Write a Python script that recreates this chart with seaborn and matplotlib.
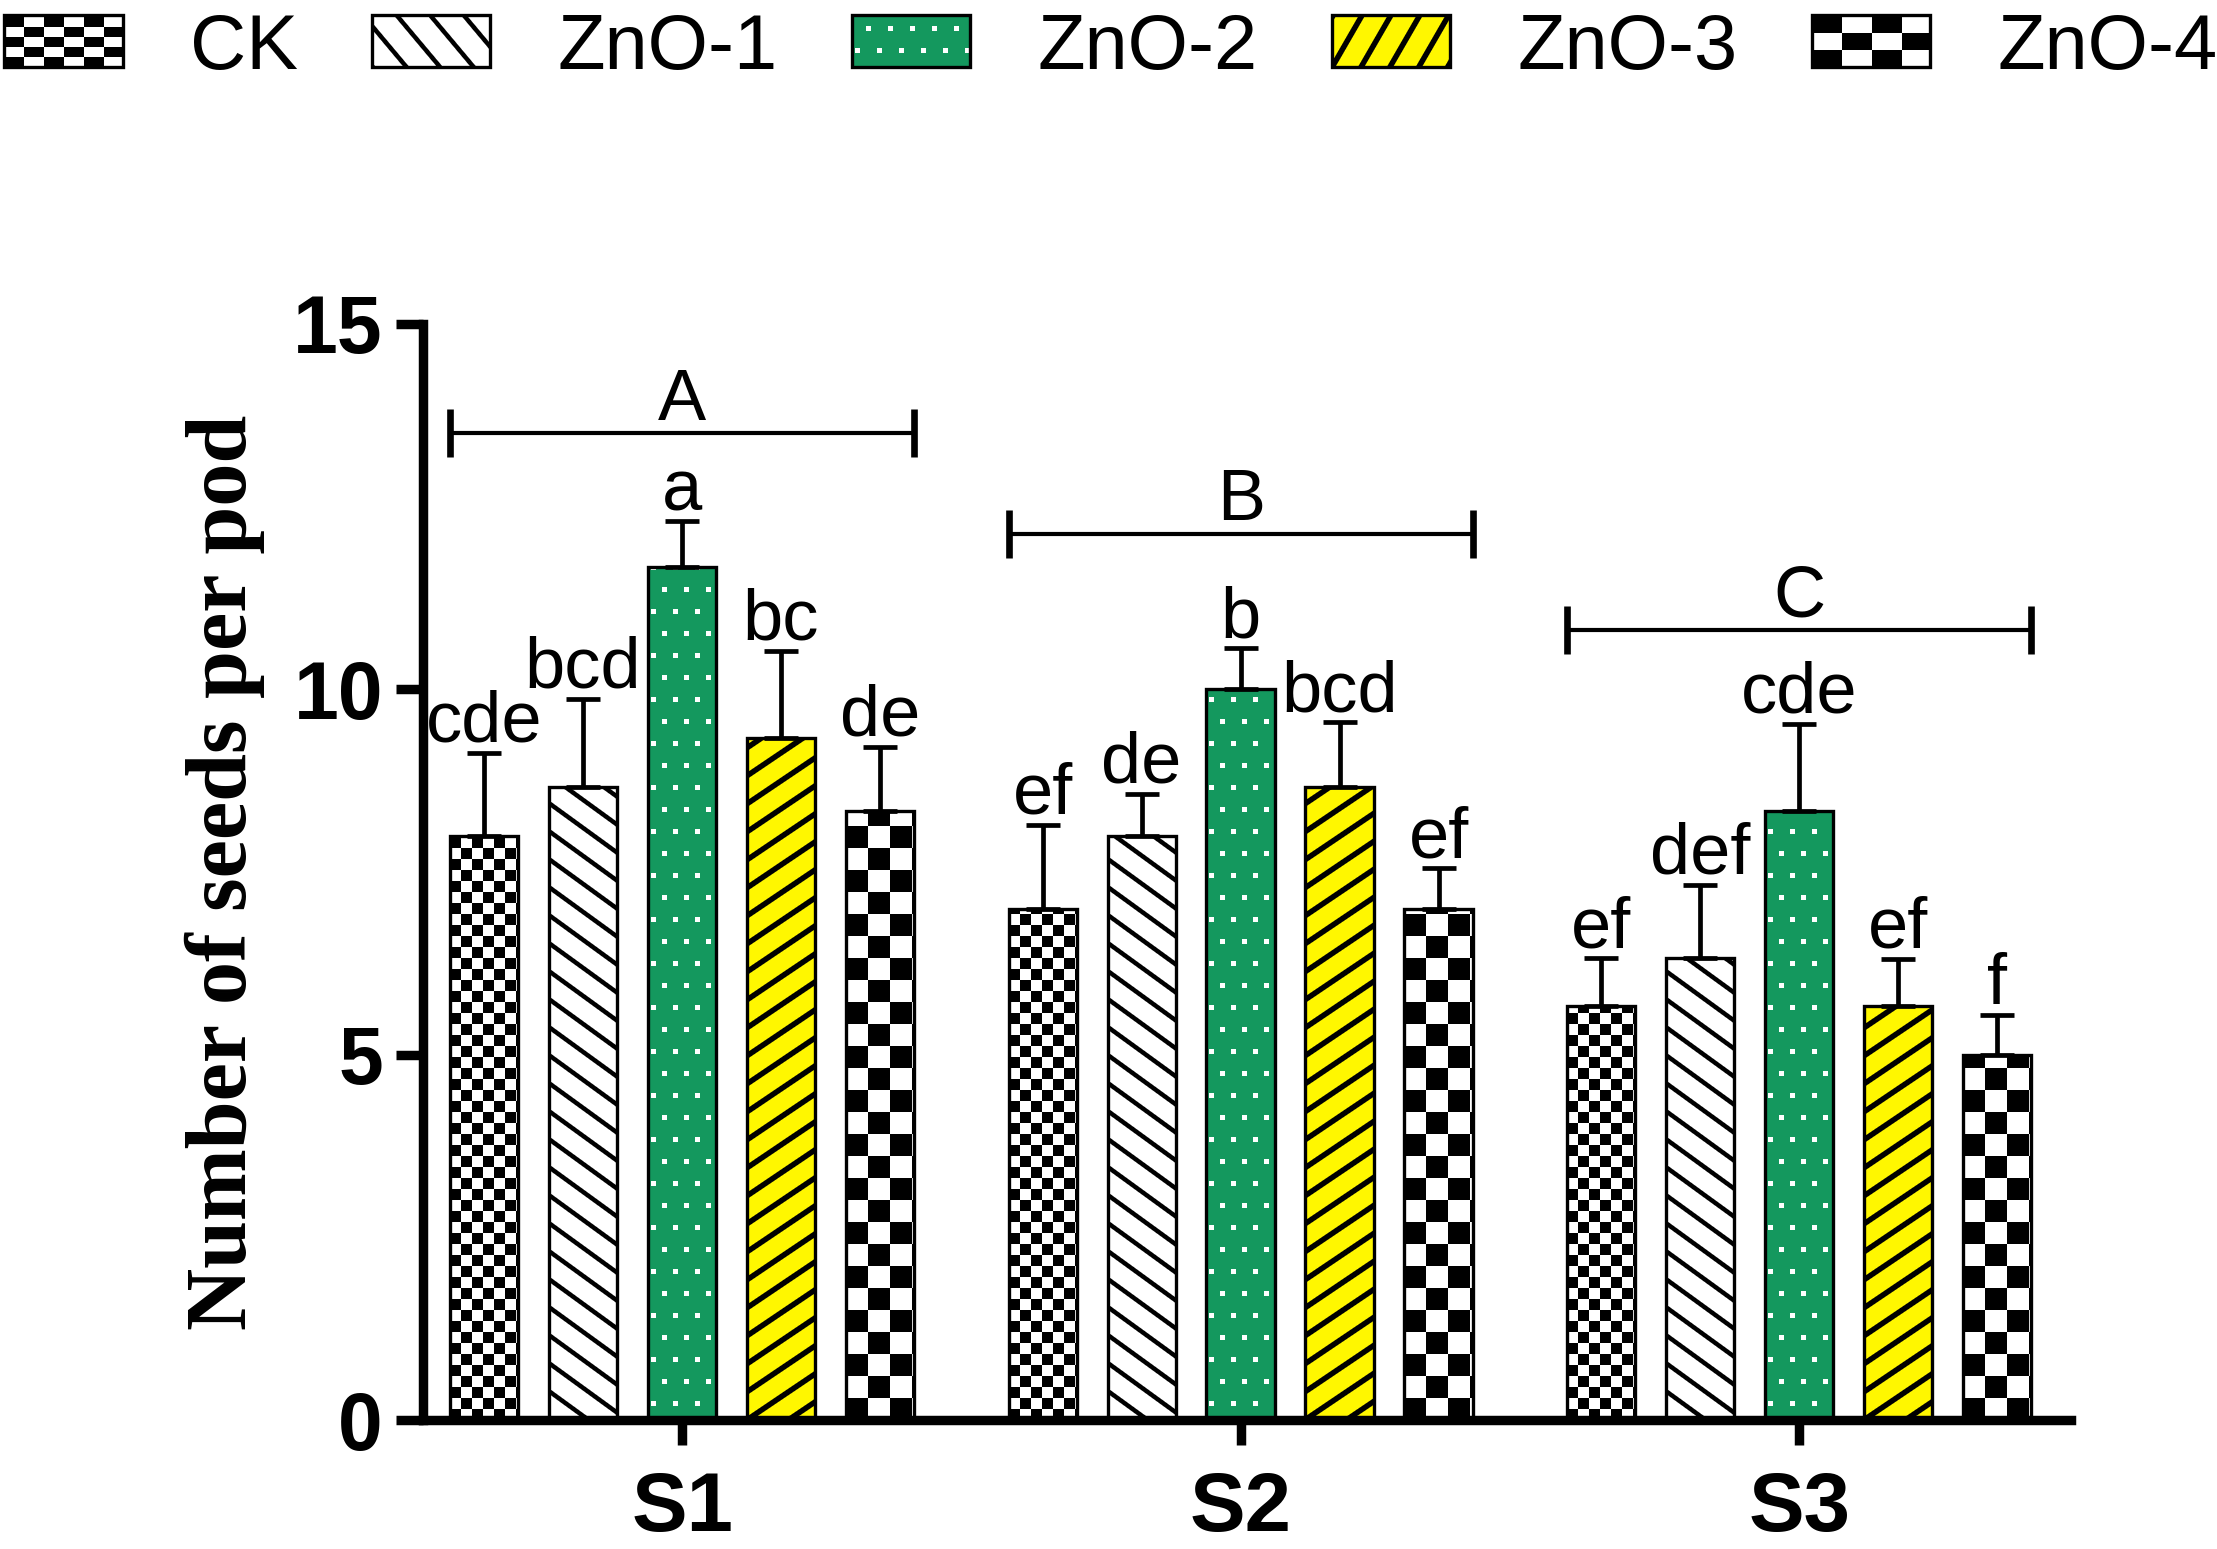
import numpy as np
import pandas as pd
import matplotlib
matplotlib.use("Agg")
import matplotlib.pyplot as plt
from matplotlib.patches import Patch
import seaborn as sns

# ---- data ----
seasons = ["S1", "S2", "S3"]
treatments = ["CK", "ZnO-1", "ZnO-2", "ZnO-3", "ZnO-4"]

ck_mean = [8.00, 7.00, 5.67]
zno1_mean = [8.67, 8.00, 6.33]
zno2_mean = [11.67, 10.00, 8.33]
zno3_mean = [9.33, 8.67, 5.67]
zno4_mean = [8.33, 7.00, 5.00]

ck_sd = [1.13, 1.15, 0.65]
zno1_sd = [1.20, 0.57, 1.00]
zno2_sd = [0.63, 0.56, 1.20]
zno3_sd = [1.20, 0.88, 0.64]
zno4_sd = [0.88, 0.55, 0.55]

ck_sig = ["cde", "ef", "ef"]
zno1_sig = ["bcd", "de", "def"]
zno2_sig = ["a", "b", "cde"]
zno3_sig = ["bc", "bcd", "ef"]
zno4_sig = ["de", "ef", "f"]

group_sig = ["A", "B", "C"]
group_bracket_y = [13.5, 12.13, 10.81]

means = [ck_mean, zno1_mean, zno2_mean, zno3_mean, zno4_mean]
sds = [ck_sd, zno1_sd, zno2_sd, zno3_sd, zno4_sd]
sigs = [ck_sig, zno1_sig, zno2_sig, zno3_sig, zno4_sig]

rows = []
for t, m in zip(treatments, means):
    for s, v in zip(seasons, m):
        rows.append({"season": s, "treatment": t, "value": v})
df = pd.DataFrame(rows)

GREEN = "#14985E"
YELLOW = "#FFF700"


# ---- pixel textures (GraphPad-like fills) ----
def lines(h, w, bg, slope, vspace, lw, down=True):
    yy, xx = np.mgrid[0:h, 0:w].astype(float)
    a = np.radians(slope)
    if down:
        s = xx * np.sin(a) + yy * np.cos(a)
    else:
        s = -xx * np.sin(a) + yy * np.cos(a)
    period = vspace * np.cos(a)
    r = s % period
    dist = np.minimum(r, period - r)
    cov = np.clip(lw / 2 + 0.5 - dist, 0, 1)[..., None]
    base = np.ones((h, w, 3)) * np.array(matplotlib.colors.to_rgb(bg))
    return base * (1 - cov)


def checker(h, w, sx, sy):
    yy, xx = np.mgrid[0:h, 0:w]
    m = ((xx // sx + yy // sy) % 2) == 0
    img = np.ones((h, w, 3))
    img[m] = 0
    return img


def dots(h, w, step=22, size=5):
    yy, xx = np.mgrid[0:h, 0:w]
    img = np.ones((h, w, 3)) * np.array(matplotlib.colors.to_rgb(GREEN))
    row = (yy + 8) // step
    off = (row % 2) * (step // 2)
    m = (((yy + 8) % step) < size) & (((xx + 8 - off) % step) < size)
    img[m] = 1
    return img


def texture(name, h, w, legend=False):
    if name == "CK":
        return checker(h, w, 20, 10) if legend else checker(h, w, 11, 11)
    if name == "ZnO-1":
        return lines(h, w, "white", 50 if legend else 36, 40 if legend else 28, 4.5, down=True)
    if name == "ZnO-2":
        return dots(h, w)
    if name == "ZnO-3":
        return lines(h, w, YELLOW, 60 if legend else 34, 50 if legend else 28, 5.5, down=False)
    return checker(h, w, 30, 17) if legend else checker(h, w, 22, 22)


# ---- figure ----
sns.set_style("ticks")
plt.rcParams["font.family"] = ["Liberation Sans", "DejaVu Sans"]
plt.rcParams.update({"text.color": "black", "axes.labelcolor": "black",
                     "axes.edgecolor": "black", "xtick.color": "black",
                     "ytick.color": "black"})

fig, ax = plt.subplots(figsize=(11.085, 7.745), dpi=200)
fig.subplots_adjust(left=0.191, right=0.934, bottom=0.083, top=0.791)
ax.patch.set_visible(False)

sns.barplot(data=df, x="season", y="value", hue="treatment",
            order=seasons, hue_order=treatments, errorbar=None,
            width=0.886, gap=0.31, palette=["white"] * 5, legend=False, ax=ax)

bar_conts = list(ax.containers)
for i, cont in enumerate(bar_conts):
    xs = [b.get_x() + b.get_width() / 2 for b in cont]
    ys = [b.get_height() for b in cont]
    for b in cont:
        b.set_facecolor("none")
        b.set_edgecolor("black")
        b.set_linewidth(1.2)
    ax.errorbar(xs, ys, yerr=[np.zeros(3), sds[i]], fmt="none", ecolor="black",
                elinewidth=1.7, capsize=6, capthick=1.7, zorder=3)
    for x, y, e, lbl in zip(xs, ys, sds[i], sigs[i]):
        ax.annotate(lbl, (x, y + e), xytext=(0, 4), textcoords="offset points",
                    ha="center", va="baseline", fontsize=26)

# season brackets
first, last = bar_conts[0], bar_conts[-1]
for j in range(len(seasons)):
    x0 = first[j].get_x()
    x1 = last[j].get_x() + last[j].get_width()
    xc = (x0 + x1) / 2
    y = group_bracket_y[j]
    ax.errorbar([xc], [y], xerr=[(x1 - x0) / 2], fmt="none", ecolor="black",
                elinewidth=1.5, capsize=8.6, capthick=2.4)
    ax.annotate(group_sig[j], (xc, y), xytext=(0, 5), textcoords="offset points",
                ha="center", va="baseline", fontsize=26)

ax.set_xlim(-0.463, 2.486)
ax.set_ylim(0, 15)
ax.set_yticks([0, 5, 10, 15])
ax.set_xlabel("")
ax.set_ylabel("Number of seeds per pod", fontsize=31, fontweight="bold",
              family=["Liberation Serif", "DejaVu Serif"])
ax.yaxis.set_label_coords(-0.096, 0.5)
sns.despine(ax=ax)
for sp in ["left", "bottom"]:
    ax.spines[sp].set_linewidth(3.4)
ax.tick_params(axis="y", length=9.6, width=3.4, pad=5, labelsize=29)
ax.tick_params(axis="x", length=9, width=3.4, pad=9, labelsize=30)
for lab in ax.get_xticklabels() + ax.get_yticklabels():
    lab.set_fontweight("bold")

handles = [Patch(facecolor="none", edgecolor="black", linewidth=1.2) for _ in treatments]
leg = fig.legend(handles, treatments, loc="center left", bbox_to_anchor=(0.002, 0.969),
                 ncol=5, frameon=False, fontsize=28, handlelength=1.52, handleheight=0.64,
                 handletextpad=0.86, columnspacing=0.96, borderpad=0, borderaxespad=0)

# lay the fills under the outlines, at device resolution
fig.canvas.draw()
rend = fig.canvas.get_renderer()
for name, cont in zip(treatments, bar_conts):
    for b in cont:
        bb = b.get_window_extent(rend)
        x0, y0 = int(round(bb.x0)), int(round(bb.y0))
        w, h = int(round(bb.x1)) - x0, int(round(bb.y1)) - y0
        if w > 0 and h > 0:
            fig.figimage(texture(name, h, w), xo=x0, yo=y0, origin="lower", zorder=-1)
for name, p in zip(treatments, leg.get_patches()):
    bb = p.get_window_extent(rend)
    x0, y0 = int(round(bb.x0)), int(round(bb.y0))
    w, h = int(round(bb.x1)) - x0, int(round(bb.y1)) - y0
    fig.figimage(texture(name, h, w, legend=True), xo=x0, yo=y0, origin="lower", zorder=-1)

fig.savefig("out.png", dpi=200, facecolor="white")
